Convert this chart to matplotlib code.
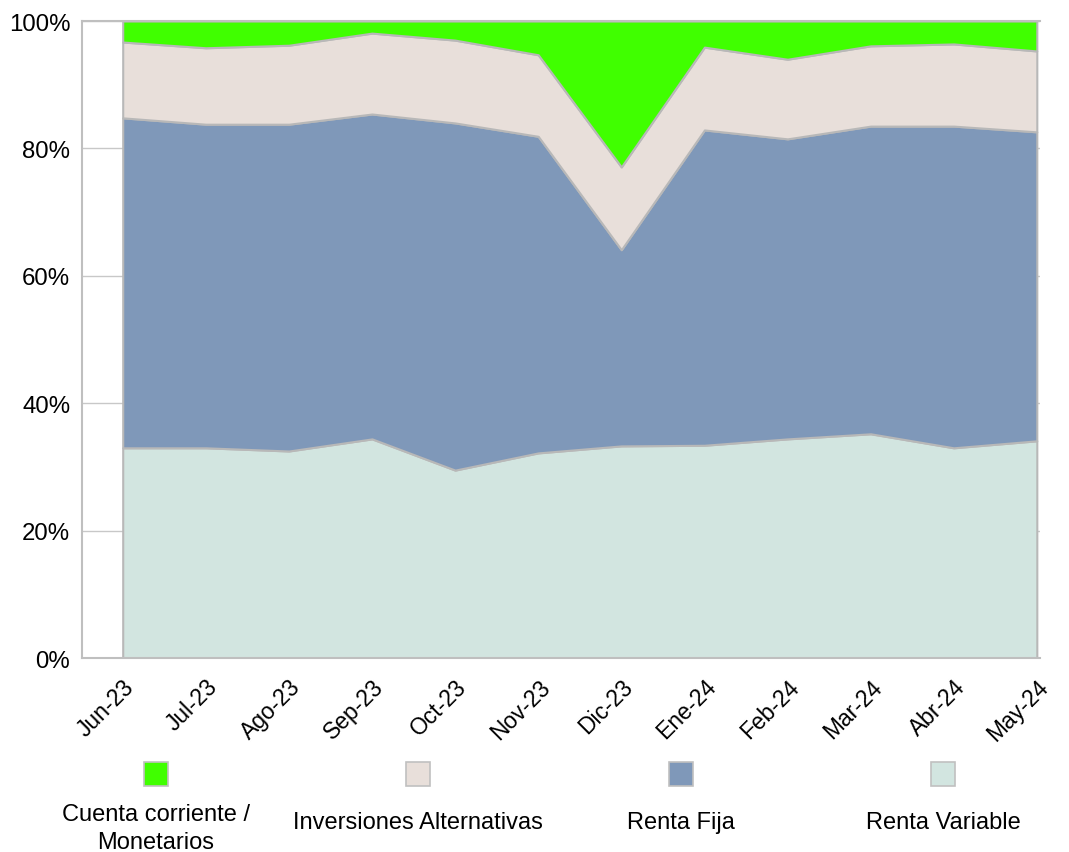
import numpy as np
import matplotlib.pyplot as plt
from matplotlib.patches import Rectangle
from matplotlib.ticker import PercentFormatter

plt.rcParams['font.family'] = ['Liberation Sans', 'DejaVu Sans']

# meses
meses = ['Jun-23', 'Jul-23', 'Ago-23', 'Sep-23', 'Oct-23', 'Nov-23',
         'Dic-23', 'Ene-24', 'Feb-24', 'Mar-24', 'Abr-24', 'May-24']

# porcentaje por categoria
renta_variable = [33.0, 33.0, 32.5, 34.4, 29.5, 32.2, 33.3, 33.4, 34.4, 35.2, 33.0, 34.1]
renta_fija = [51.8, 50.8, 51.3, 51.0, 54.5, 49.7, 30.8, 49.5, 47.1, 48.3, 50.5, 48.5]
alternativas = [11.9, 12.0, 12.4, 12.7, 13.0, 12.8, 13.0, 13.0, 12.5, 12.6, 12.9, 12.7]
cuenta_corriente = [3.3, 4.2, 3.8, 1.9, 3.0, 5.3, 22.9, 4.1, 6.0, 3.9, 3.6, 4.7]

nombres = ['Cuenta corriente /\nMonetarios', 'Inversiones Alternativas', 'Renta Fija', 'Renta Variable']
colores = ['#40ff00', '#e8dfda', '#7f98b9', '#d2e5e0']

fig = plt.figure(figsize=(10.69, 8.53), dpi=100)
ax = fig.add_axes([0.0767, 0.2274, 0.8963, 0.7468])

x = np.arange(len(meses))
ax.stackplot(x, renta_variable, renta_fija, alternativas, cuenta_corriente,
             colors=colores[::-1], edgecolor='#b8b8b8', linewidth=1.5, zorder=2)

ax.set_xlim(-0.49, 11.04)
ax.set_ylim(0, 100)
ax.set_yticks(range(0, 101, 20))
ax.yaxis.set_major_formatter(PercentFormatter(decimals=0))
ax.grid(axis='y', color='#c8c8c8', linewidth=1, zorder=0)
ax.set_xticks(x)
ax.set_xticklabels(meses, rotation=45, ha='right', rotation_mode='anchor')
ax.tick_params(axis='both', length=0)
ax.tick_params(axis='x', pad=12, labelsize=16.5)
ax.tick_params(axis='y', pad=8.5, labelsize=17.3)
for lado in ['left', 'bottom', 'top']:
    ax.spines[lado].set_color('#bfbfbf')
    ax.spines[lado].set_linewidth(1.5)
ax.spines['right'].set_visible(False)

# leyenda manual debajo del grafico
centros = [156, 418, 681, 943]
for cx, nombre, color in zip(centros, nombres, colores):
    fig.add_artist(Rectangle(((cx - 12) / 1069, 1 - 787 / 853), 24 / 1069, 24 / 853,
                             transform=fig.transFigure, facecolor=color,
                             edgecolor='#c0c0c0', linewidth=1.2))
    cy = 829 if '\n' in nombre else 823
    fig.text(cx / 1069, 1 - cy / 853, nombre, ha='center', va='center',
             fontsize=17, linespacing=1.35)

plt.savefig('out.png', dpi=100)
